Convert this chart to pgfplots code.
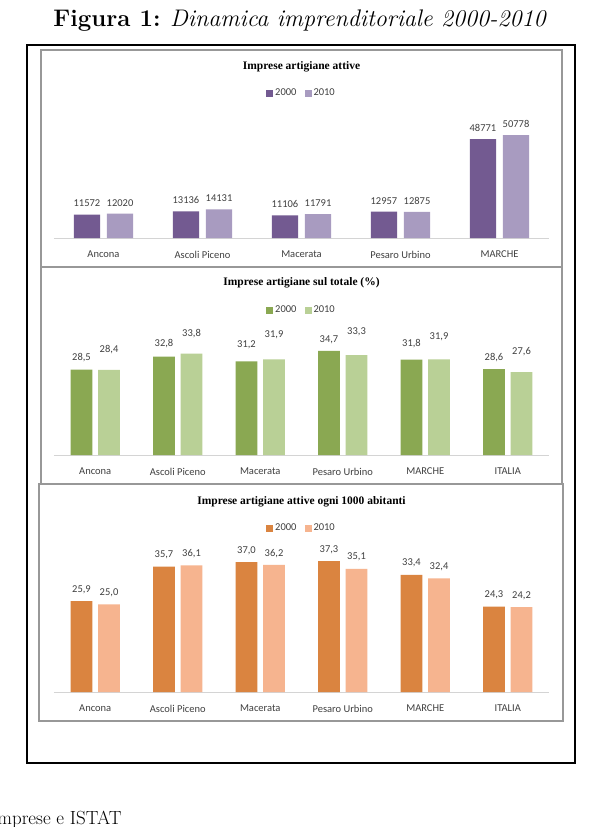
\documentclass[border=0pt]{standalone}
\usepackage{pgfplots}
\pgfplotsset{compat=1.18}
\usepackage{fontspec}
\newfontfamily\calib{Carlito}
\newfontfamily\tserif{Liberation Serif}

\definecolor{frame}{RGB}{152,152,152}
\definecolor{base}{RGB}{212,212,212}
\definecolor{txt}{RGB}{64,64,64}
\definecolor{pur1}{RGB}{115,90,145}
\definecolor{pur2}{RGB}{168,155,192}
\definecolor{grn1}{RGB}{138,168,82}
\definecolor{grn2}{RGB}{185,208,150}
\definecolor{org1}{RGB}{218,132,64}
\definecolor{org2}{RGB}{246,180,143}

\pgfplotsset{
  panel/.style={
    scale only axis, width=495pt, anchor=south west,
    ybar, bar width=0.265, ymin=0,
    axis x line=bottom, axis y line=none,
    axis line style={-, draw=base, line width=0.8pt},
    tick style={draw=none}, major tick length=0pt,
    xticklabel style={font=\calib\fontsize{10.5}{12}\selectfont, text=txt, yshift=-9.5pt},
    nodes near coords,
    every node near coord/.append style={font=\calib\fontsize{10.5}{12}\selectfont, text=txt, yshift=4pt},
    title style={font=\tserif\bfseries\fontsize{11.5}{13}\selectfont, anchor=center},
    legend columns=2,
    legend style={draw=none, fill=none, anchor=center,
      font=\calib\fontsize{10.5}{12}\selectfont, text=txt,
      /tikz/every even column/.append style={column sep=6pt}},
    legend image code/.code={\draw[##1,/tikz/.cd,draw=none] (0pt,-3.5pt) rectangle (7pt,3.5pt);},
    /pgf/number format/assume math mode=true,
  },
  spostato/.style={visualization depends on={value \thisrow{dy}\as\dy},
    every node near coord/.append style={yshift=\dy pt}},
}

\begin{document}
\begin{tikzpicture}
\useasboundingbox (0,0) rectangle (612pt,-827pt);
\node[anchor=base] at (300pt,-27pt) {\fontsize{24}{28}\selectfont\textbf{Figura 1:} \textit{Dinamica imprenditoriale 2000-2010}};
\draw[line width=1.2pt] (27pt,-45pt) rectangle (575pt,-763pt);
\draw[frame, line width=2pt, fill=white] (41pt,-50pt) rectangle (562pt,-267pt);
\draw[frame, line width=2pt, fill=white] (41pt,-267pt) rectangle (562pt,-484pt);
\draw[frame, line width=2pt, fill=white] (39pt,-484pt) rectangle (563pt,-721pt);
\node[anchor=base east] at (125pt,-824pt) {\fontsize{19}{22}\selectfont Imprese e ISTAT};

% pannello 1
\begin{axis}[panel, at={(54pt,-238pt)}, height=111.5pt,
  ymax=55000, xmin=-0.5, xmax=4.5, xtick={0,...,4},
  xticklabels={Ancona,Ascoli Piceno,Macerata,Pesaro Urbino,MARCHE},
  title={Imprese artigiane attive}, title style={at={(0.5,1.48)}},
  legend style={at={(0.5,1.30)}},
  /pgf/number format/.cd, fixed, precision=0, 1000 sep={}]
\addplot[fill=pur1, draw=none, bar shift=-0.167] coordinates {(0,11572) (1,13136) (2,11106) (3,12957) (4,48771)};
\addplot[fill=pur2, draw=none, bar shift=0.167] coordinates {(0,12020) (1,14131) (2,11791) (3,12875) (4,50778)};
\legend{2000,2010}
\end{axis}

% pannello 2
\begin{axis}[panel, at={(54pt,-455pt)}, height=120pt,
  ymax=40, xmin=-0.5, xmax=5.5, xtick={0,...,5},
  xticklabels={Ancona,Ascoli Piceno,Macerata,Pesaro Urbino,MARCHE,ITALIA},
  title={Imprese artigiane sul totale (\%)}, title style={at={(0.5,1.383)}},
  legend style={at={(0.5,1.208)}},
  /pgf/number format/.cd, fixed, fixed zerofill, precision=1, use comma]
\addplot[fill=grn1, draw=none, bar shift=-0.167, spostato] table {
x y dy
0 28.5 0
1 32.8 1
2 31.2 5
3 34.7 0
4 31.8 4
5 28.6 0
};
\addplot[fill=grn2, draw=none, bar shift=0.167, spostato] table {
x y dy
0 28.4 8
1 33.8 8
2 31.9 13
3 33.3 12
4 31.9 11
5 27.6 9
};
\legend{2000,2010}
\end{axis}

% pannello 3
\begin{axis}[panel, at={(54pt,-692pt)}, height=140.4pt,
  ymax=40, xmin=-0.5, xmax=5.5, xtick={0,...,5},
  xticklabels={Ancona,Ascoli Piceno,Macerata,Pesaro Urbino,MARCHE,ITALIA},
  title={Imprese artigiane attive ogni 1000 abitanti}, title style={at={(0.5,1.31)}},
  legend style={at={(0.5,1.168)}},
  /pgf/number format/.cd, fixed, fixed zerofill, precision=1, use comma]
\addplot[fill=org1, draw=none, bar shift=-0.167] coordinates {(0,25.9) (1,35.7) (2,37.0) (3,37.3) (4,33.4) (5,24.3)};
\addplot[fill=org2, draw=none, bar shift=0.167] coordinates {(0,25.0) (1,36.1) (2,36.2) (3,35.1) (4,32.4) (5,24.2)};
\legend{2000,2010}
\end{axis}
\end{tikzpicture}
\end{document}
